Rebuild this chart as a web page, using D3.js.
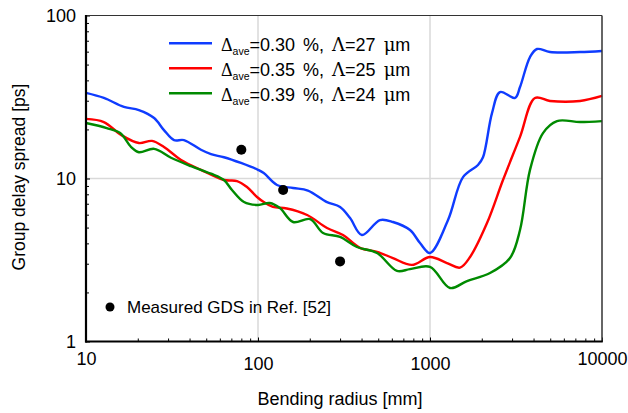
<!DOCTYPE html>
<html>
<head>
<meta charset="utf-8">
<script src="https://cdn.jsdelivr.net/npm/d3@7"></script>
<style>
  html, body { margin: 0; padding: 0; background: #fff; }
  svg { display: block; font-family: "Liberation Sans", Arial, sans-serif; }
</style>
</head>
<body>
<svg id="chart" width="628" height="413"></svg>
<script>
// Group delay spread vs bending radius for three trench profiles
const radiusDomain = [10, 10000];
const gdsDomain = [1, 100];
const xTickValues = [10, 100, 1000, 10000];
const yTickValues = [1, 10, 100];

const seriesLabels = [
  { delta: "0.30", lambda: "27" },
  { delta: "0.35", lambda: "25" },
  { delta: "0.39", lambda: "24" }
];
const seriesColors = ["#0f3cff", "#ff0000", "#008a00"];

// [bending radius mm, group delay spread ps]
const gdsDelta030 = [
  [10, 33.5], [12.7, 31.2], [16.6, 27.5], [20.3, 26.3], [24.9, 23.5], [28.4, 19.8],
  [32.5, 17.2], [37.1, 17.2], [46.6, 15.0], [53.3, 14.1], [63.4, 13.5], [79.6, 12.45],
  [100, 11.3], [108, 10.8], [129, 9.12], [160, 8.74], [195, 8.44], [252, 7.17],
  [300, 6.69], [343, 5.72], [402, 4.5], [512, 5.56], [609, 5.41], [765, 4.83],
  [875, 4.02], [1000, 3.49], [1273, 5.56], [1556, 10.2], [1901, 12.1], [2033, 13.5],
  [2293, 25.2], [2553, 33.9], [3120, 31.2], [3337, 36.4], [3814, 55.6], [4190, 62.3],
  [4985, 59.7], [7450, 59.7], [10000, 60.6]
];
const gdsDelta035 = [
  [10, 23.2], [12.7, 22.2], [16.0, 18.5], [20.3, 16.5], [24.2, 17.0], [28.4, 15.6],
  [35.7, 13.0], [46.6, 11.3], [63.4, 9.79], [75.5, 9.65], [86.3, 8.87], [98.7, 7.7],
  [108, 7.17], [122, 6.69], [147, 6.55], [193, 5.97], [252, 4.97], [312, 4.5],
  [392, 3.75], [492, 3.55], [609, 3.25], [786, 2.95], [1000, 3.3], [1255, 3.03],
  [1494, 2.84], [1709, 3.3], [2145, 5.33], [2657, 9.79], [3337, 18.0], [4078, 31.2],
  [4985, 29.9], [7450, 29.9], [10000, 32.1]
];
const gdsDelta039 = [
  [10, 21.9], [13.2, 20.4], [15.8, 19.0], [18.3, 15.6], [20.3, 14.5], [24.9, 15.2],
  [31.2, 13.4], [40.8, 11.9], [53.3, 10.7], [63.4, 9.79], [70.6, 8.5], [82.9, 7.17],
  [100, 6.88], [117, 7.07], [134, 6.59], [160, 5.41], [201, 5.64], [239, 4.63],
  [300, 4.38], [376, 3.8], [492, 3.49], [643, 2.71], [765, 2.78], [1000, 2.87],
  [1307, 2.13], [1641, 2.35], [2233, 2.63], [2918, 3.25], [3337, 4.83], [3814, 11.3],
  [4539, 19.0], [5474, 22.5], [7450, 22.2], [10000, 22.5]
];
const measuredGDS = [[80, 15], [140, 8.5], [300, 3.1]];
const measuredLabel = "Measured GDS in Ref. [52]";

const margin = { left: 86, right: 26, top: 15.5, bottom: 71.5 };
const W = 628, H = 413;
const iw = W - margin.left - margin.right;
const ih = H - margin.top - margin.bottom;
const FONT = "Liberation Sans, Arial, sans-serif";
const SERIF = "DejaVu Serif, Liberation Serif, serif";

const svg = d3.select("#chart");
const g = svg.append("g").attr("transform", `translate(${margin.left},${margin.top})`);

const x = d3.scaleLog().domain(radiusDomain).range([0, iw]);
const y = d3.scaleLog().domain(gdsDomain).range([ih, 0]);

// major grid lines
g.append("g").selectAll("line").data(xTickValues.slice(1, -1)).join("line")
  .attr("x1", d => x(d)).attr("x2", d => x(d)).attr("y1", 0).attr("y2", ih)
  .attr("stroke", "#d9d9d9").attr("stroke-width", 1.5);
g.append("g").selectAll("line").data(yTickValues.slice(1, -1)).join("line")
  .attr("y1", d => y(d)).attr("y2", d => y(d)).attr("x1", 0).attr("x2", iw)
  .attr("stroke", "#d9d9d9").attr("stroke-width", 1.5);

// minor ticks at 2..9 of every decade
const minorX = [];
for (let dec = 10; dec < 10000; dec *= 10) for (let k = 2; k <= 9; k++) minorX.push(dec * k);
const minorY = [];
for (let dec = 1; dec < 100; dec *= 10) for (let k = 2; k <= 9; k++) minorY.push(dec * k);

const xAxis = d3.axisBottom(x).tickValues(xTickValues).tickFormat(d3.format("d"))
  .tickSizeInner(-4).tickSizeOuter(0);
const xAx = g.append("g").attr("transform", `translate(0,${ih})`).call(xAxis);
xAx.select(".domain").remove();
xAx.selectAll(".tick line").attr("stroke", "#000");
// end labels sit a little higher than the inner ones
xAx.selectAll("text").attr("font-size", 18).attr("fill", "#000").attr("font-family", FONT)
  .attr("dy", null)
  .attr("y", d => (d === xTickValues[0] || d === xTickValues[xTickValues.length - 1]) ? 23.5 : 28.5);
g.append("g").attr("transform", `translate(0,${ih})`)
  .call(d3.axisBottom(x).tickValues(minorX).tickSizeInner(-3).tickSizeOuter(0).tickFormat(""))
  .call(s => s.select(".domain").remove())
  .selectAll("line").attr("stroke", "#000");

const yAxis = d3.axisLeft(y).tickValues(yTickValues).tickFormat(d3.format("d"))
  .tickSizeInner(-4).tickSizeOuter(0).tickPadding(10);
const yAx = g.append("g").call(yAxis);
yAx.select(".domain").remove();
yAx.selectAll(".tick line").attr("stroke", "#000");
yAx.selectAll("text").attr("font-size", 18).attr("fill", "#000").attr("font-family", FONT);
g.append("g")
  .call(d3.axisLeft(y).tickValues(minorY).tickSizeInner(-3).tickSizeOuter(0).tickFormat(""))
  .call(s => s.select(".domain").remove())
  .selectAll("line").attr("stroke", "#000");

// series curves
const line = d3.line().x(d => x(d[0])).y(d => y(d[1])).curve(d3.curveCatmullRom.alpha(0.5));
const series = [gdsDelta030, gdsDelta035, gdsDelta039];
g.append("g").selectAll("path").data(series).join("path")
  .attr("d", line).attr("fill", "none")
  .attr("stroke", (d, i) => seriesColors[i]).attr("stroke-width", 2.4)
  .attr("stroke-linejoin", "round");

// measured points
g.append("g").selectAll("circle").data(measuredGDS).join("circle")
  .attr("cx", d => x(d[0])).attr("cy", d => y(d[1])).attr("r", 5).attr("fill", "#000");

// frame: heavy left/bottom, light top/right
g.append("line").attr("x1", iw).attr("x2", iw).attr("y1", 0).attr("y2", ih)
  .attr("stroke", "#333").attr("stroke-width", 1.5);
g.append("line").attr("x1", 0).attr("x2", iw).attr("y1", 0).attr("y2", 0)
  .attr("stroke", "#333").attr("stroke-width", 1.2);
g.append("line").attr("x1", 0).attr("x2", 0).attr("y1", -0.6).attr("y2", ih + 1)
  .attr("stroke", "#000").attr("stroke-width", 2.2);
g.append("line").attr("x1", -1).attr("x2", iw + 0.75).attr("y1", ih).attr("y2", ih)
  .attr("stroke", "#000").attr("stroke-width", 2.2);

// legend: one flowing label per series
const leg = svg.append("g").attr("transform", "translate(169,43.3)");
seriesLabels.forEach((s, i) => {
  const row = leg.append("g").attr("transform", `translate(0,${i * 25})`);
  row.append("line").attr("x1", 0).attr("x2", 43).attr("y1", 0).attr("y2", 0)
    .attr("stroke", seriesColors[i]).attr("stroke-width", 2.4);
  const t = row.append("text").attr("x", 52).attr("y", 7.5).attr("font-size", 18)
    .attr("fill", "#000").attr("word-spacing", 3).attr("xml:space", "preserve");
  t.append("tspan").attr("font-family", "Liberation Serif, serif").text("\u0394");
  t.append("tspan").attr("font-size", 10.5).attr("dy", 4).text("ave");
  t.append("tspan").attr("dy", -4).text(`=${s.delta} %, `);
  t.append("tspan").attr("font-family", SERIF).text("\u039B");
  t.append("tspan").text(`=${s.lambda} `);
  t.append("tspan").attr("font-family", SERIF).text("\u03BC");
  t.append("tspan").text("m");
});

const ml = svg.append("g").attr("transform", "translate(110,307)");
ml.append("circle").attr("r", 4.5).attr("fill", "#000");
ml.append("text").attr("x", 17).attr("y", 6).attr("font-size", 17).attr("fill", "#000").text(measuredLabel);

// axis titles
svg.append("text").attr("x", 340).attr("y", 405).attr("text-anchor", "middle")
  .attr("font-size", 18).attr("fill", "#000").text("Bending radius [mm]");
svg.append("text").attr("transform", `translate(25,177) rotate(-90)`)
  .attr("text-anchor", "middle").attr("font-size", 17.5).attr("fill", "#000")
  .text("Group delay spread [ps]");
</script>
</body>
</html>
